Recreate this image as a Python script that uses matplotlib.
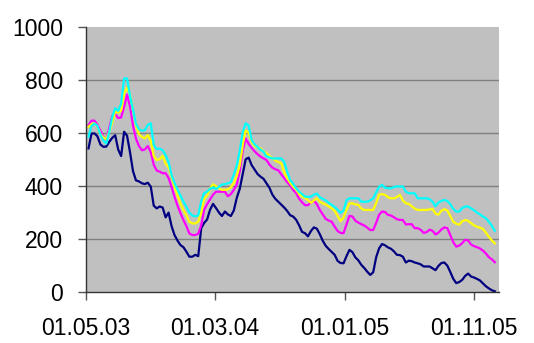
import matplotlib
matplotlib.use("Agg")
import matplotlib.pyplot as plt
import pandas as pd

# Weekly observations
dates = pd.date_range("2003-05-07", periods=138, freq="7D")

navy = [542, 598, 599, 588, 557, 548, 549, 567, 582, 592,
        538, 513, 605, 590, 527, 456, 421, 417, 410, 407,
        412, 397, 325, 315, 322, 318, 281, 299, 248, 214,
        193, 176, 168, 151, 132, 132, 139, 134, 240, 260,
        273, 310, 332, 316, 299, 286, 303, 292, 286, 307,
        355, 389, 445, 501, 507, 479, 462, 445, 435, 427,
        410, 393, 367, 351, 340, 329, 318, 305, 289, 284,
        272, 251, 226, 221, 209, 229, 243, 238, 217, 192,
        173, 161, 150, 139, 116, 108, 107, 134, 158, 149,
        129, 118, 101, 89, 75, 63, 73, 130, 164, 180,
        175, 167, 162, 152, 139, 138, 132, 110, 117, 115,
        110, 107, 103, 95, 95, 95, 88, 81, 97, 108,
        110, 98, 74, 48, 32, 36, 44, 59, 68, 57,
        53, 48, 42, 31, 20, 12, 5, 1]

magenta = [630, 647, 647, 632, 609, 587, 575, 620, 664, 672,
           657, 659, 700, 746, 701, 629, 579, 551, 535, 538,
           551, 528, 480, 458, 454, 448, 448, 430, 396, 359,
           326, 297, 271, 248, 220, 214, 214, 219, 251, 310,
           331, 349, 367, 378, 378, 378, 378, 361, 369, 385,
           405, 456, 533, 580, 559, 544, 531, 520, 511, 504,
           498, 481, 469, 463, 459, 444, 429, 414, 402, 385,
           373, 352, 338, 327, 327, 338, 344, 331, 309, 292,
           275, 269, 264, 246, 229, 222, 221, 254, 287, 284,
           268, 261, 255, 250, 242, 233, 233, 260, 291, 303,
           301, 290, 288, 281, 274, 271, 271, 254, 255, 255,
           240, 240, 234, 222, 225, 234, 230, 216, 223, 235,
           243, 240, 213, 187, 170, 174, 183, 196, 194, 178,
           172, 168, 163, 155, 144, 130, 122, 111]

yellow = [624, 634, 637, 627, 596, 584, 577, 605, 640, 681,
          678, 685, 749, 773, 744, 684, 627, 596, 585, 580,
          593, 570, 513, 498, 501, 514, 484, 470, 435, 396,
          364, 334, 308, 289, 264, 258, 258, 265, 299, 351,
          363, 390, 406, 399, 391, 385, 385, 387, 395, 411,
          438, 478, 555, 610, 601, 567, 551, 546, 542, 531,
          524, 514, 505, 496, 490, 486, 451, 429, 412, 397,
          386, 369, 360, 355, 346, 336, 345, 353, 340, 334,
          329, 322, 315, 305, 286, 267, 280, 310, 334, 334,
          330, 328, 314, 309, 309, 309, 309, 335, 367, 369,
          366, 357, 353, 353, 358, 366, 345, 334, 332, 323,
          314, 309, 309, 309, 309, 311, 313, 295, 291, 306,
          312, 307, 286, 264, 257, 253, 266, 271, 268, 259,
          251, 245, 242, 237, 223, 207, 194, 182]

cyan = [586, 627, 636, 628, 595, 572, 560, 605, 660, 694,
        684, 711, 807, 807, 740, 688, 634, 615, 609, 611,
        631, 637, 555, 540, 541, 535, 516, 491, 441, 411,
        386, 364, 340, 321, 299, 288, 284, 289, 341, 373,
        378, 389, 394, 388, 397, 405, 407, 410, 414, 443,
        478, 533, 604, 637, 628, 574, 557, 547, 537, 530,
        512, 508, 504, 504, 504, 504, 491, 453, 422, 408,
        391, 378, 369, 359, 359, 359, 367, 371, 357, 351,
        345, 336, 328, 320, 310, 298, 307, 346, 353, 353,
        353, 353, 340, 340, 340, 345, 353, 376, 397, 404,
        393, 391, 391, 396, 398, 398, 398, 378, 372, 372,
        372, 353, 353, 353, 353, 350, 340, 323, 337, 343,
        347, 343, 331, 313, 303, 303, 316, 322, 322, 315,
        308, 299, 292, 284, 278, 264, 249, 230]

tick_dates = ["2003-05-01", "2004-03-01", "2005-01-01", "2005-11-01"]
tick_labels = ["01.05.03", "01.03.04", "01.01.05", "01.11.05"]
y_ticks = [0, 200, 400, 600, 800, 1000]

plt.rcParams["font.family"] = ["Liberation Sans", "DejaVu Sans"]

fig = plt.figure(figsize=(5.34, 3.43), dpi=100)
ax = fig.add_axes([0.161, 0.150, 0.7735, 0.770])
ax.set_facecolor("#C0C0C0")

# horizontal gridlines between the axis limits
for y in y_ticks[1:-1]:
    ax.axhline(y, color="#808080", linewidth=1.0, zorder=1)

series = [(navy, "#000080"), (magenta, "#FF00FF"),
          (yellow, "#FFFF00"), (cyan, "#00FFFF")]
for vals, col in series:
    ax.plot(dates, vals, color=col, linewidth=1.6, zorder=2)

ax.set_ylim(0, 1000)
ax.set_xlim(pd.Timestamp("2003-05-01"), pd.Timestamp("2005-12-31"))
ax.set_yticks(y_ticks)
ax.set_xticks([pd.Timestamp(d) for d in tick_dates])
ax.set_xticklabels(tick_labels)

for s in ["top", "right"]:
    ax.spines[s].set_visible(False)
for s in ["left", "bottom"]:
    ax.spines[s].set_color("#333333")
    ax.spines[s].set_linewidth(1.0)

ax.tick_params(axis="both", direction="out", length=6, width=1.0,
               color="#555555", labelsize=16.5, labelcolor="black")
ax.tick_params(axis="y", pad=10.5)
ax.tick_params(axis="x", pad=12.5)

fig.savefig("out.png", dpi=100)
